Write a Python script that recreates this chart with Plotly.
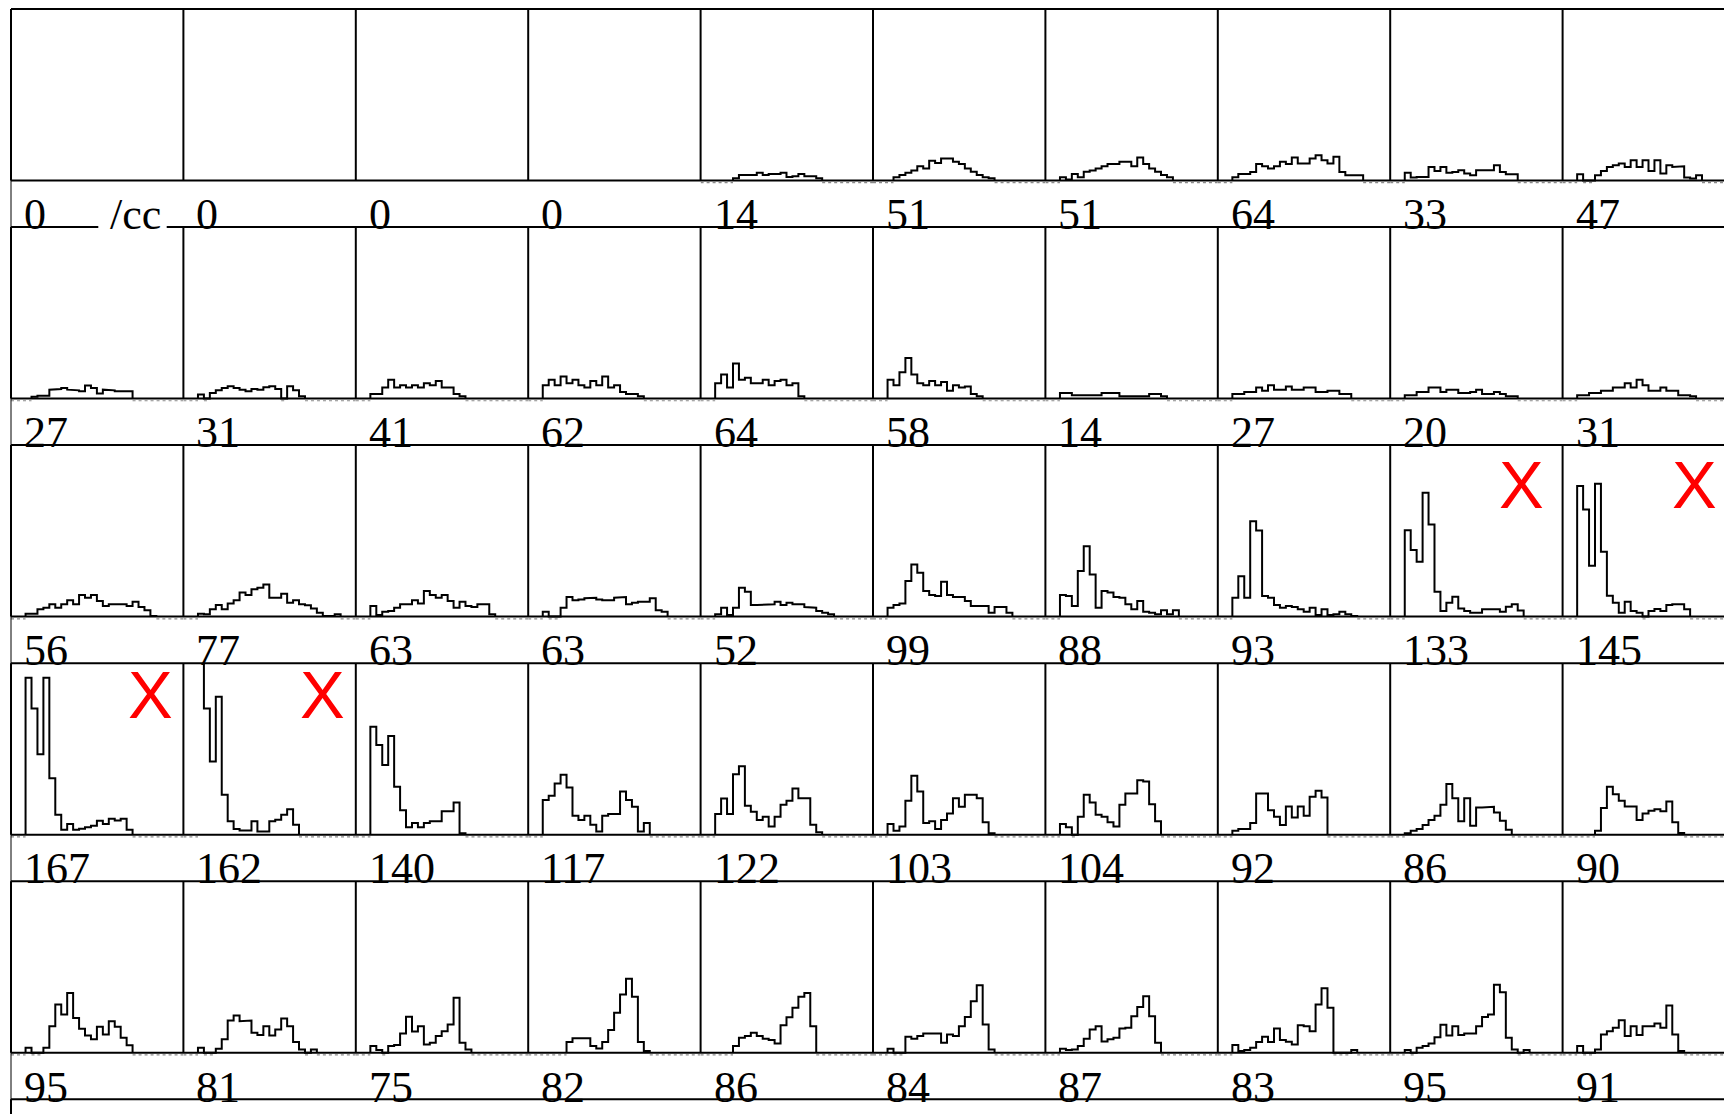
import plotly.graph_objects as go

# Histogram contents per panel, bin 0 upward, in percent of the panel's full scale.
# Trailing empty bins are left out and padded with zeros below.
ROW1_HISTS = [
    [],
    [],
    [],
    [],
    [0, 0, 0, 0, 0, 1.3, 3.2, 3.2, 3.2, 4.5, 3.2, 3.8, 3.8, 4.5, 2.0, 2.5, 3.8, 2.5, 2.5, 1.3],
    [0, 0, 0, 1.9, 3.2, 4.5, 5.8, 8.3, 7.0, 11.5, 10.2, 12.8, 12.8, 10.9, 9.6, 7.0, 5.1, 3.2, 1.9, 1.3],
    [0, 0, 1.9, 0.6, 3.8, 1.9, 5.1, 5.8, 7.0, 8.3, 9.6, 9.6, 10.9, 10.9, 8.3, 13.4, 9.6, 7.0, 5.1, 3.2, 1.9],
    [0, 0, 1.9, 3.8, 3.8, 5.0, 9.6, 8.3, 7.0, 8.3, 10.9, 9.6, 13.4, 9.9, 9.9, 12.8, 14.7, 11.8, 9.9, 13.8, 5.0, 3.1, 3.1, 3.1],
    [0, 0, 4.5, 1.7, 2.1, 2.1, 7.9, 5.6, 7.9, 4.5, 5.0, 6.0, 4.1, 3.1, 6.0, 5.6, 6.0, 8.9, 5.0, 3.7, 3.7],
    [0, 0, 3.7, 0, 0, 3.1, 5.6, 7.9, 8.9, 9.9, 7.9, 11.8, 7.9, 11.8, 5.6, 11.8, 4.1, 8.9, 7.9, 8.3, 1.7, 1.2, 3.1],
]
ROW2_HISTS = [
    [0, 0, 0, 1.0, 1.7, 1.7, 5.2, 5.6, 6.2, 5.2, 4.8, 4.3, 7.6, 6.2, 2.9, 5.2, 4.8, 4.3, 3.9, 4.3],
    [0, 0, 2.3, 0, 3.3, 4.8, 6.2, 7.2, 6.2, 5.2, 4.3, 5.6, 5.2, 6.6, 7.2, 5.6, 0, 7.2, 4.8, 1.4],
    [0, 0, 2.6, 2.6, 6.4, 10.9, 6.4, 7.7, 6.4, 7.7, 6.4, 8.9, 7.7, 10.2, 6.4, 6.4, 2.6, 1.3],
    [0, 0, 7.7, 10.9, 7.7, 12.8, 8.9, 10.9, 7.7, 6.4, 10.2, 7.7, 12.8, 6.4, 7.7, 3.8, 2.6, 2.6, 1.3],
    [0, 0, 8.9, 14.1, 6.4, 20.4, 10.9, 12.1, 8.9, 8.9, 10.9, 7.7, 10.2, 10.9, 7.7, 8.9, 1.3],
    [0, 0, 10.9, 7.7, 15.3, 23.6, 14.1, 8.9, 7.7, 10.2, 7.7, 9.6, 4.5, 7.7, 6.4, 7.0, 2.6, 1.3],
    [0, 0, 3.2, 3.2, 1.9, 1.9, 1.9, 1.9, 1.9, 3.2, 3.2, 3.2, 1.3, 1.3, 1.3, 1.3, 1.3, 2.6, 2.6, 1.3],
    [0, 0, 2.6, 2.6, 3.8, 3.8, 6.4, 4.5, 7.7, 5.1, 5.1, 7.0, 5.1, 5.1, 6.4, 6.4, 3.8, 3.8, 4.5, 4.5, 2.6, 2.6],
    [0, 0, 1.9, 1.9, 3.8, 3.8, 6.4, 6.4, 3.8, 5.1, 5.1, 3.2, 3.2, 3.8, 5.1, 2.6, 2.6, 3.8, 2.6, 1.3, 1.3],
    [0, 0, 1.9, 1.9, 3.2, 3.2, 4.5, 4.5, 6.4, 6.4, 8.9, 6.4, 10.9, 7.7, 4.5, 4.5, 6.4, 4.5, 4.5, 2.0, 2.0, 1.3],
]
ROW3_HISTS = [
    [0, 0, 1.7, 1.7, 4.3, 5.2, 7.2, 5.2, 7.2, 9.5, 7.2, 12.6, 11.0, 12.6, 9.1, 6.2, 7.2, 6.8, 7.2, 6.2, 8.7, 5.6, 3.7, 0.4],
    [0, 0, 1.7, 1.4, 4.3, 6.8, 4.3, 7.6, 9.5, 14.0, 12.6, 15.9, 16.9, 18.8, 11.0, 11.0, 13.4, 8.1, 9.5, 7.2, 6.6, 4.8, 2.3, 0.4, 0.4, 1.4],
    [0, 0, 6.2, 1.0, 2.9, 3.3, 5.2, 7.2, 7.2, 9.5, 7.6, 14.9, 12.6, 11.0, 12.6, 9.1, 5.2, 8.7, 6.2, 5.6, 7.2, 7.2, 1.4],
    [0, 0, 2.9, 0, 0, 5.2, 11.4, 9.5, 10.0, 10.7, 11.0, 10.0, 9.5, 9.5, 11.0, 11.4, 7.2, 8.1, 8.7, 8.7, 10.7, 3.7, 2.9],
    [0, 0, 1.4, 5.2, 1.0, 5.2, 16.9, 14.5, 6.8, 6.8, 6.8, 7.2, 8.7, 6.8, 8.1, 7.2, 7.2, 5.6, 5.2, 3.3, 2.3, 1.4],
    [0, 0, 5.2, 6.8, 7.6, 20.7, 30.4, 25.6, 14.9, 12.6, 12.0, 20.3, 12.6, 11.4, 11.4, 9.1, 6.2, 6.2, 6.2, 2.3, 5.6, 5.6, 2.3],
    [0, 0, 12.6, 12.0, 6.2, 26.6, 41.0, 24.6, 5.2, 14.9, 14.0, 11.4, 11.0, 7.2, 4.3, 9.1, 2.9, 2.3, 1.4, 3.7, 1.4, 3.7],
    [0, 0, 11.0, 23.6, 11.0, 55.6, 50.2, 12.0, 11.0, 6.8, 5.2, 6.2, 5.6, 4.3, 2.9, 5.2, 1.0, 4.3, 1.0, 1.4, 2.9, 1.4, 0.4],
    [0, 0, 50.4, 38.8, 32.0, 72.3, 53.7, 14.5, 3.3, 8.1, 11.6, 4.8, 3.3, 2.3, 2.3, 4.3, 4.3, 4.3, 2.9, 5.8, 7.2, 3.5],
    [0, 0, 76.2, 62.4, 29.7, 77.5, 37.8, 12.2, 8.1, 2.3, 8.7, 3.3, 2.3, 0, 3.3, 4.5, 3.3, 6.8, 7.2, 7.2, 4.3],
]
ROW4_HISTS = [
    [0, 0, 91.5, 73.6, 46.9, 91.5, 32.9, 11.6, 2.9, 6.2, 2.9, 3.5, 4.3, 5.2, 8.1, 6.2, 9.3, 8.3, 9.3, 2.9],
    [0, 0, 110.0, 73.6, 42.6, 80.4, 23.3, 7.8, 3.3, 2.5, 2.5, 7.8, 1.9, 1.9, 7.8, 8.7, 11.6, 14.9, 5.8],
    [0, 0, 63.0, 52.3, 40.7, 57.6, 27.9, 14.3, 4.3, 6.8, 4.3, 6.8, 7.8, 7.8, 13.6, 13.6, 18.8, 0.8],
    [0, 0, 20.2, 22.7, 29.8, 34.9, 27.5, 11.0, 8.5, 11.0, 5.8, 1.9, 11.0, 12.0, 12.0, 25.2, 20.2, 16.3, 1.9, 6.8],
    [0, 0, 12.0, 21.1, 12.0, 35.3, 39.9, 16.9, 13.4, 8.5, 10.5, 4.8, 10.5, 17.4, 19.8, 26.9, 21.3, 21.3, 5.8, 1.4],
    [0, 0, 6.2, 2.3, 4.8, 19.8, 34.3, 25.2, 6.8, 7.8, 3.3, 8.5, 12.4, 21.3, 16.3, 23.3, 23.3, 21.3, 7.2, 0.8],
    [0, 0, 6.2, 4.3, 0, 10.5, 23.3, 18.8, 11.6, 10.5, 7.2, 4.8, 17.4, 24.0, 24.0, 31.8, 31.0, 17.8, 7.8],
    [0, 0, 2.3, 3.3, 3.3, 6.8, 24.0, 24.0, 14.3, 10.5, 5.6, 16.5, 10.0, 16.5, 11.0, 22.1, 25.6, 21.7],
    [0, 0, 0.8, 2.3, 3.3, 5.6, 8.5, 11.0, 17.4, 29.5, 21.3, 7.8, 21.3, 5.2, 15.9, 15.9, 16.3, 13.0, 8.1, 2.9],
    [0, 0, 0, 0, 0, 2.3, 15.5, 27.9, 23.6, 19.8, 16.5, 16.5, 8.5, 12.4, 14.0, 14.9, 13.6, 19.4, 7.2, 1.0],
]
ROW5_HISTS = [
    [0, 0, 2.9, 0, 0, 2.9, 15.5, 28.1, 22.3, 34.9, 20.3, 14.0, 10.0, 7.8, 15.1, 10.7, 18.4, 15.1, 8.7, 4.3],
    [0, 0, 2.9, 0, 0, 2.3, 7.8, 18.8, 21.7, 18.4, 18.8, 11.6, 10.3, 15.5, 10.0, 13.6, 20.0, 15.5, 6.2, 1.9, 0, 1.9],
    [0, 0, 3.9, 1.6, 0, 3.9, 4.5, 11.2, 21.0, 12.4, 15.5, 4.8, 5.8, 9.7, 12.6, 16.5, 32.0, 5.8, 1.9],
    [0, 0, 0, 0, 0, 0, 6.2, 8.5, 8.5, 8.5, 3.9, 2.5, 6.2, 13.2, 23.3, 33.9, 43.2, 32.6, 6.2, 1.0],
    [0, 0, 0, 0, 0, 3.9, 8.7, 9.7, 11.6, 9.7, 8.1, 7.4, 5.4, 16.1, 20.7, 26.2, 32.6, 34.9, 15.5],
    [0, 0, 2.3, 0, 0, 9.3, 8.1, 9.7, 11.2, 11.6, 11.2, 5.8, 10.7, 9.7, 15.5, 20.9, 30.0, 39.3, 16.5, 1.9],
    [0, 0, 2.3, 1.6, 1.9, 3.9, 8.1, 13.6, 15.5, 6.6, 7.8, 8.7, 14.1, 14.5, 21.3, 26.7, 32.9, 21.3, 5.8],
    [0, 0, 4.5, 1.0, 1.6, 2.9, 6.2, 9.3, 6.2, 14.1, 7.4, 6.4, 4.8, 16.1, 15.5, 12.6, 28.1, 37.6, 26.2, 0, 0, 0, 1.6],
    [0, 0, 1.6, 0, 2.9, 3.9, 5.4, 9.1, 16.3, 10.1, 15.5, 10.3, 11.2, 11.2, 15.5, 20.9, 22.3, 39.7, 35.3, 8.7, 1.9, 0, 1.6],
    [0, 0, 3.9, 0, 0, 1.9, 10.7, 12.6, 14.5, 19.0, 9.7, 15.5, 10.3, 15.5, 15.5, 17.1, 14.5, 27.5, 10.7, 1.0],
]

# Count printed under each panel
ROW1_LABELS = [0, 0, 0, 0, 14, 51, 51, 64, 33, 47]
ROW2_LABELS = [27, 31, 41, 62, 64, 58, 14, 27, 20, 31]
ROW3_LABELS = [56, 77, 63, 63, 52, 99, 88, 93, 133, 145]
ROW4_LABELS = [167, 162, 140, 117, 122, 103, 104, 92, 86, 90]
ROW5_LABELS = [95, 81, 75, 82, 86, 84, 87, 83, 95, 91]

UNIT_TEXT = "/cc"
# Panels marked as rejected (row, column)
REJECTED = [(2, 8), (2, 9), (3, 0), (3, 1)]

HISTS = [ROW1_HISTS, ROW2_HISTS, ROW3_HISTS, ROW4_HISTS, ROW5_HISTS]
LABELS = [ROW1_LABELS, ROW2_LABELS, ROW3_LABELS, ROW4_LABELS, ROW5_LABELS]

# ---- page geometry (pixels) ----
W, H = 1724, 1114
NROWS, NCOLS = 5, 10
NBINS = 29
GRID_LEFT = 11.0
COL_W = 172.4
GRID_TOP = 9.0
ROW_STEP = 218.06
PANEL_H = 171.5
BIN_START = -0.45      # axis value at the left frame of every panel
Y_FULL = 100.0
EXT_PX = 4.0           # plot area reaches a little under the frame
ZERO_PX = 2.2          # dotted empty-bin level just below the frame
LABEL_DX = 11.0
LABEL_DY = 34.3
FRAME_W = 2

SERIF = "Liberation Serif, Times New Roman, serif"
SANS = "Liberation Sans, Arial, sans-serif"


def fx(p):
    return p / W


def fy(p):
    return 1 - p / H


fig = go.Figure()
axes = {}
shapes = []
annotations = []

for r in range(NROWS):
    top = GRID_TOP + r * ROW_STEP
    bottom = top + PANEL_H
    for c in range(NCOLS):
        k = r * NCOLS + c + 1
        sfx = "" if k == 1 else str(k)
        left = GRID_LEFT + c * COL_W
        right = min(left + COL_W, W)
        x_hi = BIN_START + (right - left) * NBINS / COL_W
        per_px = Y_FULL / PANEL_H
        axes["xaxis" + sfx] = dict(domain=[fx(left), fx(right)], range=[BIN_START, x_hi],
                                   visible=False, fixedrange=True, anchor="y" + sfx)
        axes["yaxis" + sfx] = dict(domain=[fy(bottom + EXT_PX), fy(top)],
                                   range=[-EXT_PX * per_px, Y_FULL],
                                   visible=False, fixedrange=True, anchor="x" + sfx)

        vals = list(HISTS[r][c]) + [0] * (NBINS - len(HISTS[r][c]))
        filled = [i for i, v in enumerate(vals) if v > 0]
        if filled:
            first, last = filled[0], filled[-1]
            # an overflowing first bin shows only its falling edge
            if vals[first] > Y_FULL:
                xs, ys = [], []
            else:
                xs, ys = [first], [0]
            for i in range(first, last + 1):
                xs += [i, i + 1]
                ys += [vals[i], vals[i]]
            xs.append(last + 1)
            ys.append(0)
            # empty bins are marked by a faint dotted level under the frame
            zy = -ZERO_PX * per_px
            zx, zys = [], []
            spans = [(BIN_START, first), (last + 1, x_hi)]
            spans += [(i, i + 1) for i in range(first, last + 1) if vals[i] == 0]
            for a, b in spans:
                if b > a:
                    zx += [a, b, None]
                    zys += [zy, zy, None]
            fig.add_trace(go.Scatter(x=zx, y=zys, mode="lines", xaxis="x" + sfx, yaxis="y" + sfx,
                                     line=dict(color="#8a8a8a", width=1.2, dash="dot"),
                                     hoverinfo="skip", showlegend=False))
            fig.add_trace(go.Scatter(x=xs, y=ys, mode="lines", xaxis="x" + sfx, yaxis="y" + sfx,
                                     line=dict(color="black", width=2),
                                     hoverinfo="skip", showlegend=False))

        # frame: column divider
        shapes.append(dict(type="line", xref="paper", yref="paper",
                           x0=fx(left), x1=fx(left), y0=fy(top), y1=fy(bottom),
                           line=dict(color="black", width=FRAME_W)))

        annotations.append(dict(text=str(LABELS[r][c]), xref="paper", yref="paper",
                                x=fx(left + LABEL_DX), y=fy(bottom + LABEL_DY),
                                xanchor="left", yanchor="middle", showarrow=False,
                                font=dict(family=SERIF, size=44, color="black")))

    # frame: top and bottom rules of the row
    for yy in (top, bottom):
        shapes.append(dict(type="line", xref="paper", yref="paper",
                           x0=fx(GRID_LEFT), x1=1, y0=fy(yy), y1=fy(yy),
                           line=dict(color="black", width=FRAME_W)))

# start of the next (cut-off) row
next_top = GRID_TOP + NROWS * ROW_STEP
shapes.append(dict(type="line", xref="paper", yref="paper",
                   x0=fx(GRID_LEFT), x1=1, y0=fy(next_top), y1=fy(next_top),
                   line=dict(color="black", width=FRAME_W)))
shapes.append(dict(type="line", xref="paper", yref="paper",
                   x0=fx(GRID_LEFT), x1=fx(GRID_LEFT), y0=fy(next_top), y1=0,
                   line=dict(color="black", width=FRAME_W)))
# thin left rule running through the label bands
shapes.append(dict(type="line", xref="paper", yref="paper",
                   x0=fx(GRID_LEFT), x1=fx(GRID_LEFT), y0=fy(GRID_TOP), y1=0,
                   line=dict(color="black", width=1)))

# unit text sits on a white patch that interrupts the rule below it
unit_y = GRID_TOP + PANEL_H + LABEL_DY
shapes.append(dict(type="rect", xref="paper", yref="paper",
                   x0=fx(98.3), x1=fx(166.7), y0=fy(GRID_TOP + ROW_STEP + 4.5), y1=fy(GRID_TOP + ROW_STEP - 4.5),
                   line=dict(width=0), fillcolor="white"))
annotations.append(dict(text=UNIT_TEXT, xref="paper", yref="paper",
                        x=fx(108.0), y=fy(unit_y), xanchor="left", yanchor="middle",
                        showarrow=False, font=dict(family=SERIF, size=44, color="black")))

# red rejection marks
X_OFFSETS = {2: (131.7, 39.2), 3: (139.0, 31.7)}
for r, c in REJECTED:
    dx, dy = X_OFFSETS[r]
    annotations.append(dict(text="X", xref="paper", yref="paper",
                            x=fx(GRID_LEFT + c * COL_W + dx), y=fy(GRID_TOP + r * ROW_STEP + dy),
                            xanchor="center", yanchor="middle", showarrow=False,
                            font=dict(family=SANS, size=67, color="#ff0000")))

fig.update_layout(width=W, height=H, autosize=False,
                  margin=dict(l=0, r=0, t=0, b=0, pad=0),
                  paper_bgcolor="white", plot_bgcolor="rgba(0,0,0,0)",
                  showlegend=False, shapes=shapes, annotations=annotations, **axes)

fig.write_html("out.html")
